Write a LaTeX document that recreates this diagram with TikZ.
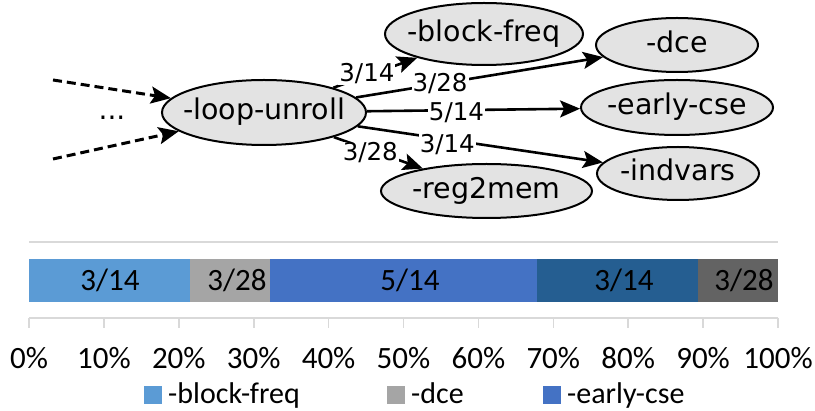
\documentclass[tikz,border=0pt]{standalone}
\usepackage{fontspec}
\setmainfont{DejaVu Sans}
\newfontfamily\calib{Carlito}
\usetikzlibrary{shapes.geometric,arrows.meta}
\definecolor{nodegray}{HTML}{E3E3E3}
\definecolor{gridc}{HTML}{D9D9D9}
\definecolor{cA}{HTML}{5B9BD5}
\definecolor{cB}{HTML}{A5A5A5}
\definecolor{cC}{HTML}{4472C4}
\definecolor{cD}{HTML}{255E91}
\definecolor{cE}{HTML}{636363}
\newcommand\zw[1]{\makebox[0pt]{#1}}
\begin{document}
\begin{tikzpicture}[x=1pt,y=-1pt,
  pass/.style={ellipse,draw=black,line width=2pt,fill=nodegray,inner sep=0pt,
    text height=21pt,text depth=6.5pt,font=\fontsize{28.5}{30}\selectfont},
  edge/.style={line width=2.6pt,-{Stealth[length=20pt,width=17pt,inset=4pt]}},
  inedge/.style={line width=3pt,dash pattern=on 9pt off 5pt,-{Stealth[length=20pt,width=17pt,inset=4pt]}},
  elab/.style={fill=white,inner sep=1pt,font=\fontsize{24.5}{26}\selectfont},
  chartfont/.style={font=\calib\fontsize{31}{33}\selectfont,inner sep=0pt},
  legfont/.style={font=\calib\fontsize{30}{32}\selectfont,inner sep=0pt},
  axisline/.style={draw=gridc,line width=1.6pt}
]
\useasboundingbox (0,0) rectangle (815,411);

% ---- graph ----
\node[pass,minimum width=204pt,minimum height=65pt] (lu) at (264,112.5) {\zw{-loop-unroll}};
\node[pass,minimum width=198pt,minimum height=62pt] (bf) at (484,34) {\zw{-block-freq}};
\node[pass,minimum width=162pt,minimum height=54pt] (dce) at (677,45) {\zw{-dce}};
\node[pass,minimum width=192pt,minimum height=55pt] (ecse) at (677,107.5) {\zw{-early-cse}};
\node[pass,minimum width=162pt,minimum height=53pt] (indv) at (678,173.5) {\zw{-indvars}};
\node[pass,minimum width=211pt,minimum height=54pt] (rm) at (486.5,191) {\zw{-reg2mem}};

\coordinate (in1) at (53,80);
\coordinate (in2) at (53,159);
\draw[inedge] (in1) -- (lu);
\draw[inedge] (in2) -- (lu);
\node[font=\fontsize{28}{30}\selectfont,anchor=base,inner sep=0pt] (dots) at (112,120) {...};

\draw[edge] (lu) -- node[elab,pos=0.40,yshift=2pt] (l1) {3/14} (bf);
\draw[edge] (lu) -- node[elab,pos=0.34] (l2) {3/28} (dce);
\draw[edge] (lu) -- node[elab,pos=0.42,yshift=-3pt] (l3) {5/14} (ecse);
\draw[edge] (lu) -- node[elab,pos=0.365,yshift=-5pt] (l4) {3/14} (indv);
\draw[edge] (lu) -- node[elab,pos=0.41,yshift=-3pt] (l5) {3/28} (rm);

% ---- bar chart ----
\draw[axisline] (29,242) -- (778,242);
\fill[cA] (29,259) rectangle (189.5,302);
\fill[cB] (189.5,259) rectangle (269.75,302);
\fill[cC] (269.75,259) rectangle (537.2,302);
\fill[cD] (537.2,259) rectangle (697.8,302);
\fill[cE] (697.8,259) rectangle (778,302);
\node[chartfont,anchor=base] (b1) at (110,291) {3/14};
\node[chartfont,anchor=base] (b2) at (237,291) {3/28};
\node[chartfont,anchor=base] (b3) at (410,291) {5/14};
\node[chartfont,anchor=base] (b4) at (624,291) {3/14};
\node[chartfont,anchor=base] (b5) at (744,291) {3/28};

\draw[axisline] (29,318) -- (778,318);
\foreach \i in {0,...,10}{
  \draw[axisline] (29+74.9*\i,318) -- (29+74.9*\i,328);
  \pgfmathtruncatemacro\pc{10*\i}
  \node[chartfont,anchor=base] (t\i) at (29+74.9*\i,369) {\pc\%};
}

\fill[cA] (144,386) rectangle (162,404);
\node[legfont,anchor=base west] (g1) at (168,403.5) {-block-freq};
\fill[cB] (387,386) rectangle (405,404);
\node[legfont,anchor=base west] (g2) at (411,403.5) {-dce};
\fill[cC] (543,386) rectangle (561,404);
\node[legfont,anchor=base west] (g3) at (567,403.5) {-early-cse};
\end{tikzpicture}
\end{document}
